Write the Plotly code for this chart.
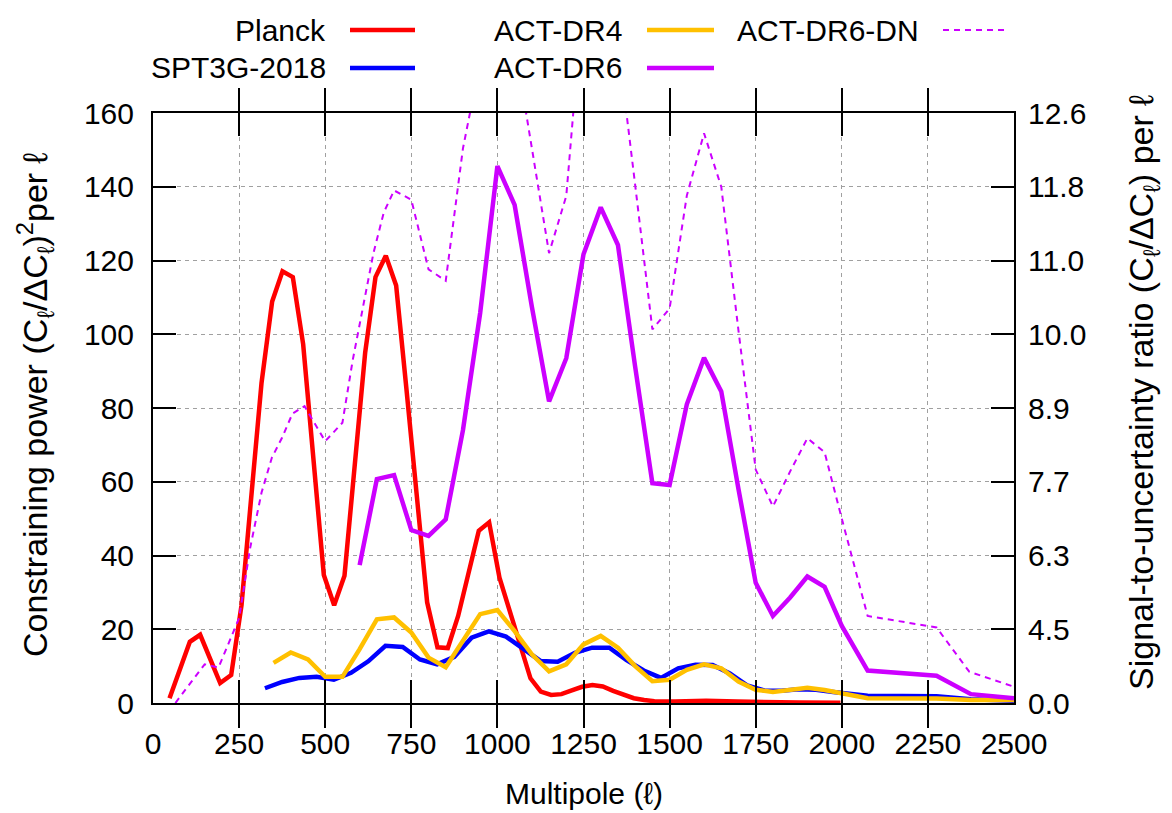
import numpy as np
import plotly.graph_objects as go

# ---- data: constraining power per multipole bin ----
planck_ell = [48, 107, 137, 195, 227, 257, 315, 346, 376, 406, 436, 496, 526, 556, 616, 646, 676,
              706, 736, 796, 826, 856, 886, 946, 976, 1006, 1096, 1126, 1156, 1186, 1216, 1246,
              1276, 1306, 1336, 1366, 1396, 1426, 1456, 1516, 1606, 1696, 1786, 1876, 1996]
planck_val = [1.3, 16.6, 18.5, 5.4, 7.6, 26.5, 86.7, 108.9, 117.1, 115.5, 97.3, 34.7, 26.5, 34.5,
              95.0, 115.5, 121.3, 113.2, 85.0, 27.3, 15.1, 14.9, 23.6, 46.7, 49.0, 34.0, 6.7, 3.1,
              2.2, 2.4, 3.4, 4.4, 4.9, 4.5, 3.3, 2.2, 1.3, 0.8, 0.5, 0.4, 0.6, 0.4, 0.2, 0.15, 0.1]

spt_ell = [325, 375, 425, 475, 525, 575, 625, 675, 725, 775, 825, 875, 925, 975, 1025, 1075, 1125,
           1175, 1225, 1275, 1325, 1375, 1425, 1475, 1525, 1575, 1625, 1675, 1725, 1775, 1825,
           1875, 1925, 1975, 2075, 2275, 2375, 2500]
spt_val = [4.0, 5.7, 6.8, 7.1, 6.3, 8.2, 11.3, 15.5, 15.2, 11.8, 10.5, 12.5, 17.7, 19.4, 18.0, 14.8,
           11.4, 11.2, 13.6, 15.0, 15.0, 11.6, 8.8, 6.8, 9.4, 10.4, 10.3, 8.0, 4.8, 3.4, 3.3, 3.7,
           3.6, 3.0, 2.0, 1.8, 1.0, 0.6]

dr4_ell = [350, 400, 450, 500, 550, 600, 650, 700, 750, 800, 850, 900, 950, 1000, 1050, 1100, 1150,
           1200, 1250, 1300, 1350, 1400, 1450, 1500, 1550, 1600, 1650, 1700, 1750, 1800, 1850,
           1900, 1950, 2000, 2075, 2275, 2375, 2500]
dr4_val = [10.9, 13.7, 11.8, 7.1, 7.1, 14.6, 22.7, 23.2, 19.1, 12.3, 9.7, 16.8, 24.1, 25.2, 19.5,
           13.2, 8.6, 10.5, 15.9, 18.2, 15.0, 10.0, 5.9, 6.3, 9.0, 10.5, 9.4, 5.8, 3.6, 3.0, 3.4,
           4.1, 3.5, 2.5, 1.3, 1.2, 0.8, 0.8]

dr6_ell = [600, 650, 700, 750, 800, 850, 900, 950, 1000, 1050, 1100, 1150, 1200, 1250, 1300, 1350,
           1400, 1450, 1500, 1550, 1600, 1650, 1700, 1750, 1800, 1850, 1900, 1950, 2000, 2075,
           2275, 2375, 2500]
dr6_val = [37.4, 60.7, 61.8, 46.9, 45.3, 49.8, 74.0, 105.8, 145.6, 135.1, 107.5, 81.8, 93.5, 121.7,
           134.4, 124.2, 91.2, 59.6, 59.1, 81.0, 93.6, 84.5, 58.0, 32.6, 23.6, 28.6, 34.3, 31.5,
           20.9, 8.8, 7.4, 2.4, 1.3]

dn_ell = [65, 150, 190, 250, 282, 315, 345, 375, 405, 440, 500, 550, 580, 610, 640, 670, 700, 750,
          800, 850, 900, 950, 1000, 1050, 1100, 1150, 1200, 1250, 1300, 1350, 1400, 1450, 1500,
          1550, 1600, 1650, 1700, 1750, 1800, 1850, 1900, 1950, 2000, 2075, 2275, 2370, 2500]
dn_val = [0.0, 10.5, 9.6, 23.0, 42.0, 57.0, 66.5, 72.0, 78.5, 80.5, 71.0, 76.0, 93.0, 108.0, 122.0,
          133.0, 139.0, 136.5, 117.6, 114.5, 150.4, 174.0, 210.0, 179.0, 150.0, 122.0, 137.5,
          193.0, 215.0, 179.0, 140.5, 101.3, 107.0, 137.6, 154.5, 140.0, 101.0, 63.3, 53.3, 62.8,
          71.8, 68.0, 50.0, 23.6, 20.5, 8.5, 4.4]

x_ticks = [0, 250, 500, 750, 1000, 1250, 1500, 1750, 2000, 2250, 2500]
y_ticks = [0, 20, 40, 60, 80, 100, 120, 140, 160]
# right axis shows the signal-to-uncertainty ratio, the square root of the left axis
y2_ticktext = [f"{np.sqrt(v):.1f}" for v in y_ticks]

series = [
    ("Planck", planck_ell, planck_val, "#ff0000", "solid", 4.5),
    ("SPT3G-2018", spt_ell, spt_val, "#0000ff", "solid", 4.5),
    ("ACT-DR4", dr4_ell, dr4_val, "#ffc000", "solid", 4.5),
    ("ACT-DR6", dr6_ell, dr6_val, "#cc00ff", "solid", 4.5),
    ("ACT-DR6-DN", dn_ell, dn_val, "#cc00ff", "6px,5px", 2),
]

FONT = "Liberation Sans, Arial, sans-serif"
FS_TICK = 30
FS_LEG = 30
FS_XT = 30
FS_YT = 34

# plot area in pixels
W, H = 1172, 813
L, R, T, B = 153, 1014, 113, 703


def px_x(px):
    return (px - L) / (R - L)


def px_y(py):
    return (B - py) / (B - T)


fig = go.Figure()
for name, xs, ys, color, dash, width in series:
    fig.add_trace(go.Scatter(x=xs, y=ys, mode="lines", name=name, showlegend=False,
                             line=dict(color=color, width=width, dash=dash)))

# invisible trace so the right-hand axis is drawn
fig.add_trace(go.Scatter(x=[0], y=[0], yaxis="y2", mode="markers",
                         marker=dict(opacity=0), showlegend=False, hoverinfo="skip"))

axis_common = dict(
    showline=True, linecolor="black", linewidth=2, mirror="allticks",
    ticks="inside", ticklen=23, tickwidth=2, tickcolor="black",
    showgrid=True, gridcolor="#a0a0a0", gridwidth=1, griddash="4px,4px",
    zeroline=False, tickfont=dict(family=FONT, size=FS_TICK, color="black"),
)

fig.update_layout(
    width=W, height=H,
    margin=dict(l=L, r=W - R, t=T, b=H - B),
    paper_bgcolor="white", plot_bgcolor="white",
    xaxis=dict(range=[0, 2500], tickvals=x_ticks, ticklabelstandoff=13, **axis_common),
    yaxis=dict(range=[0, 160], tickvals=y_ticks, ticklabelstandoff=11, **axis_common),
    yaxis2=dict(range=[0, 160], overlaying="y", side="right", tickvals=y_ticks,
                ticktext=y2_ticktext, ticks="", showgrid=False, showline=False,
                zeroline=False, ticklabelstandoff=13,
                tickfont=dict(family=FONT, size=FS_TICK, color="black")),
)

annotations = [
    dict(text="Multipole (ℓ)", x=0.5, y=px_y(793), xanchor="center", yanchor="middle",
         font=dict(family=FONT, size=FS_XT, color="black")),
    dict(text="Constraining power (C<sub>ℓ</sub>/ΔC<sub>ℓ</sub>)<sup>2</sup>per ℓ",
         x=px_x(35), y=px_y(405), textangle=-90, xanchor="center", yanchor="middle",
         font=dict(family=FONT, size=FS_YT, color="black")),
    dict(text="Signal-to-uncertainty ratio (C<sub>ℓ</sub>/ΔC<sub>ℓ</sub>) per ℓ",
         x=px_x(1143), y=px_y(393), textangle=-90, xanchor="center", yanchor="middle",
         font=dict(family=FONT, size=FS_YT, color="black")),
]

# legend: label right-aligned, line sample to its right
legend_layout = [
    ("Planck", 328, 30, 350, 415),
    ("SPT3G-2018", 328, 68, 350, 415),
    ("ACT-DR4", 624, 30, 647, 714),
    ("ACT-DR6", 624, 68, 647, 714),
    ("ACT-DR6-DN", 921, 30, 943, 1008),
]
style = {s[0]: s for s in series}
shapes = []
for name, tx, ty, lx0, lx1 in legend_layout:
    annotations.append(dict(text=name, x=px_x(tx), y=px_y(ty), xanchor="right", yanchor="middle",
                            font=dict(family=FONT, size=FS_LEG, color="black")))
    _, _, _, color, dash, width = style[name]
    shapes.append(dict(type="line", xref="paper", yref="paper", x0=px_x(lx0), x1=px_x(lx1),
                       y0=px_y(ty), y1=px_y(ty), line=dict(color=color, width=width, dash=dash)))

for a in annotations:
    a.update(xref="paper", yref="paper", showarrow=False)

fig.update_layout(annotations=annotations, shapes=shapes)
fig.write_html("out.html")
